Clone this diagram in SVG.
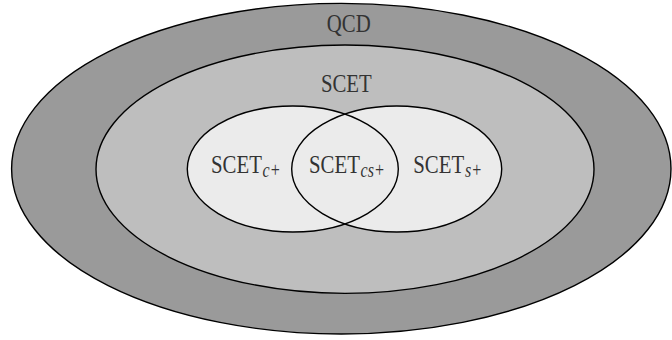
<svg xmlns="http://www.w3.org/2000/svg" width="672" height="340" viewBox="0 0 672 340">
<style>
.ring{stroke:#000;stroke-width:1.4}
.lbl{font-family:"Liberation Serif","DejaVu Serif",serif;font-size:26px;fill:#333}
.sub{font-style:italic;font-size:20px}
</style>
<rect width="672" height="340" fill="#fff"/>
<g id="qcd">
<ellipse class="ring" cx="341.3" cy="168.7" rx="329.7" ry="165.3" fill="#9a9a9a"/>
<text class="lbl" text-anchor="middle" transform="translate(348.7,31.5) scale(0.8,1)">QCD</text>
</g>
<g id="scet">
<ellipse class="ring" cx="345" cy="169.2" rx="249" ry="124.2" fill="#bebebe"/>
<text class="lbl" text-anchor="middle" transform="translate(346.3,92.3) scale(0.8,1)">SCET</text>
</g>
<g id="scet-c">
<ellipse cx="292.8" cy="169" rx="105.5" ry="63" fill="#ebebeb"/>
</g>
<g id="scet-s">
<ellipse cx="396.7" cy="169" rx="105" ry="63" fill="#ebebeb"/>
</g>
<g id="outlines" fill="none">
<ellipse class="ring" cx="292.8" cy="169" rx="105.5" ry="63"/>
<ellipse class="ring" cx="396.7" cy="169" rx="105" ry="63"/>
</g>
<g id="labels">
<text class="lbl" transform="translate(211,173.3) scale(0.8,1)">SCET<tspan class="sub" dy="4" dx="1">c+</tspan></text>
<text class="lbl" transform="translate(309,173.3) scale(0.8,1)">SCET<tspan class="sub" dy="4" dx="1">cs+</tspan></text>
<text class="lbl" transform="translate(413.3,173.3) scale(0.8,1)">SCET<tspan class="sub" dy="4" dx="1">s+</tspan></text>
</g>
</svg>
